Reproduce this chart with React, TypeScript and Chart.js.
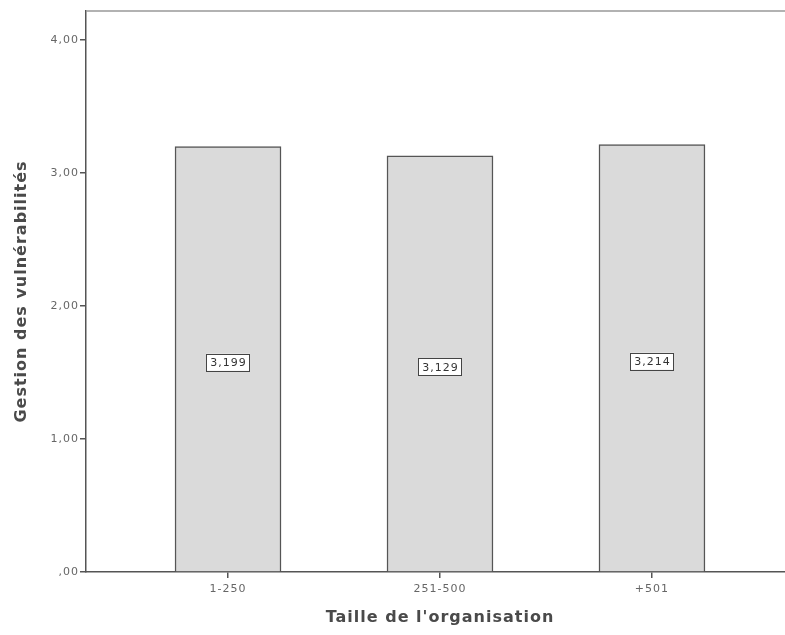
import React, { useEffect, useRef } from "react";
import { Chart, registerables } from "chart.js";

Chart.register(...registerables);

const categories = ["1-250", "251-500", "+501"];
const values = [3.199, 3.129, 3.214];
const yTicks = [0, 1, 2, 3, 4];
const xTitle = "Taille de l'organisation";
const yTitle = "Gestion des vulnérabilités";

const fmt = (v: number) => {
  const s = v.toFixed(2).replace(".", ",");
  return s.startsWith("0,") ? s.slice(1) : s;
};
const fmt3 = (v: number) => v.toFixed(3).replace(".", ",");

const AXIS = "#555555";
const FONT = "'DejaVu Sans', sans-serif";

const spacingPlugin = {
  id: "spacing",
  beforeDraw(chart: any) {
    chart.ctx.letterSpacing = "1px";
  },
};

const decorPlugin = {
  id: "decor",
  afterDatasetsDraw(chart: any) {
    const { ctx, chartArea } = chart;
    ctx.save();
    ctx.letterSpacing = "1px";
    ctx.strokeStyle = "#999999";
    ctx.lineWidth = 1.5;
    ctx.beginPath();
    ctx.moveTo(chartArea.left, chartArea.top);
    ctx.lineTo(chartArea.right, chartArea.top);
    ctx.stroke();
    const meta = chart.getDatasetMeta(0);
    const yScale = chart.scales.y;
    ctx.font = `11px ${FONT}`;
    ctx.textAlign = "center";
    ctx.textBaseline = "middle";
    meta.data.forEach((bar: any, i: number) => {
      const v = values[i];
      const cy = yScale.getPixelForValue(v / 2) + 3;
      const cx = bar.x;
      const text = fmt3(v);
      const w = ctx.measureText(text).width + 7;
      const h = 17;
      ctx.fillStyle = "#ffffff";
      ctx.fillRect(cx - w / 2, cy - h / 2, w, h);
      ctx.strokeStyle = "#444444";
      ctx.lineWidth = 1;
      ctx.strokeRect(Math.round(cx - w / 2) + 0.5, Math.round(cy - h / 2) + 0.5, Math.round(w), h);
      ctx.fillStyle = "#333333";
      ctx.fillText(text, cx + 0.5, cy + 1);
    });
    ctx.restore();
  },
};

export default function App() {
  const ref = useRef<HTMLCanvasElement>(null);
  useEffect(() => {
    if (!ref.current) return;
    const chart = new Chart(ref.current, {
      type: "bar",
      data: {
        datasets: [
          {
            data: values.map((v, i) => ({ x: i, y: v })),
            backgroundColor: "#dadada",
            borderColor: AXIS,
            borderWidth: 1.5,
            borderSkipped: "bottom",
            barThickness: 106,
          },
        ],
      },
      options: {
        responsive: false,
        animation: false,
        events: [],
        layout: { padding: { top: 11, right: 6, left: 0, bottom: 0 } },
        plugins: { legend: { display: false }, tooltip: { enabled: false } },
        scales: {
          x: {
            type: "linear",
            min: -0.67,
            max: 2.67,
            offset: false,
            afterBuildTicks: (scale: any) => {
              scale.ticks = categories.map((_, i) => ({ value: i }));
            },
            afterFit: (scale: any) => {
              scale.height = 63;
            },
            grid: { offset: false, drawOnChartArea: false, drawTicks: true, tickLength: 6, color: AXIS, lineWidth: 1.5 },
            border: { display: true, color: AXIS, width: 1.5 },
            ticks: {
              autoSkip: false,
              maxRotation: 0,
              padding: 5,
              color: "#666666",
              font: { family: FONT, size: 11 },
              callback: (v: any) => categories[v] ?? "",
            },
            title: {
              display: true,
              text: xTitle,
              color: "#4a4a4a",
              font: { family: FONT, size: 16, weight: "bold" },
              padding: { top: 4, bottom: 8 },
            },
          },
          y: {
            min: 0,
            max: 4.218,
            afterBuildTicks: (scale: any) => {
              scale.ticks = yTicks.map((v) => ({ value: v }));
            },
            afterFit: (scale: any) => {
              scale.width = 86;
            },
            grid: { drawOnChartArea: false, drawTicks: true, tickLength: 6, color: AXIS, lineWidth: 1.5 },
            border: { display: true, color: AXIS, width: 1.5 },
            ticks: {
              padding: 1,
              color: "#666666",
              font: { family: FONT, size: 11 },
              callback: (v: any) => fmt(Number(v)),
            },
            title: {
              display: true,
              text: yTitle,
              color: "#4a4a4a",
              font: { family: FONT, size: 16, weight: "bold" },
              padding: { top: 12, bottom: 0 },
            },
          },
        },
      },
      plugins: [spacingPlugin, decorPlugin],
    } as any);
    return () => chart.destroy();
  }, []);
  return (
    <div style={{ position: "absolute", left: 0, top: 0, width: 785, height: 635, overflow: "hidden", background: "#fff" }}>
      <canvas ref={ref} width={800} height={635} style={{ display: "block" }} />
    </div>
  );
}
